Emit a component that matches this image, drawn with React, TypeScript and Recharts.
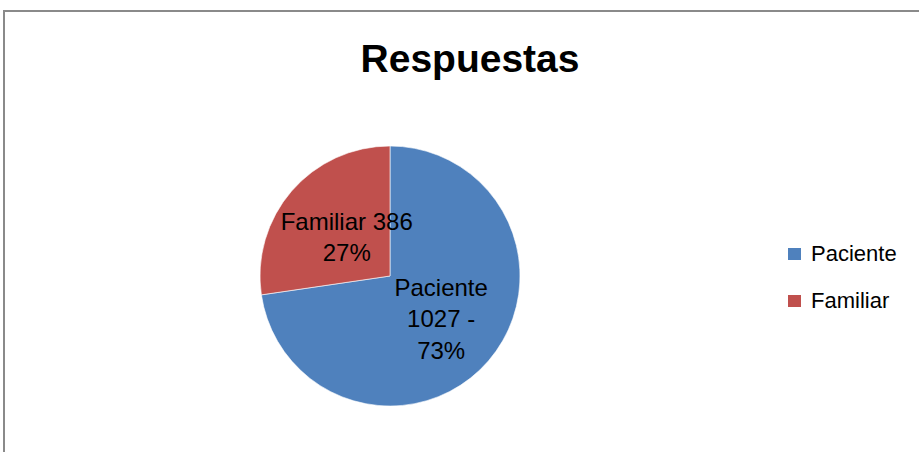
import React from "react";
import { PieChart, Pie, Cell, Legend } from "recharts";

const categories = ["Paciente", "Familiar"];
const values = [1027, 386];
const colors = ["#4F81BD", "#C0504D"];
const labelLines = [
  ["Paciente", "1027 -", "73%"],
  ["Familiar 386", "27%"],
];
const labelRadiusFactor = [0.52, 0.44];
const title = "Respuestas";

const data = categories.map((name, i) => ({ name, value: values[i], lines: labelLines[i] }));

const FONT = "'Liberation Sans', Arial, sans-serif";
const RAD = Math.PI / 180;

const renderLabel = (props: any) => {
  const { cx, cy, midAngle, outerRadius, index } = props;
  const r = outerRadius * labelRadiusFactor[index];
  const x = cx + r * Math.cos(-midAngle * RAD);
  const y = cy + r * Math.sin(-midAngle * RAD);
  const lines: string[] = data[index].lines;
  const lh = 31.5;
  const firstBaseline = y - ((lines.length - 1) * lh) / 2 + 7;
  return (
    <text x={x} textAnchor="middle" fontFamily={FONT} fontSize={24} fill="#000">
      {lines.map((l, i) => (
        <tspan key={i} x={x} y={firstBaseline + i * lh}>
          {l}
        </tspan>
      ))}
    </text>
  );
};

const renderLegend = () => (
  <div style={{ fontFamily: FONT, fontSize: 22, color: "#000" }}>
    {categories.map((c, i) => (
      <div key={c} style={{ display: "flex", alignItems: "center", height: 47 }}>
        <span style={{ display: "inline-block", width: 13, height: 12, background: colors[i], marginRight: 10 }} />
        <span>{c}</span>
      </div>
    ))}
  </div>
);

export default function App() {
  return (
    <div style={{ position: "absolute", left: 0, top: 0, width: 919, height: 452, background: "#fff", overflow: "hidden" }}>
      <div
        style={{
          position: "absolute",
          left: 3,
          top: 10,
          width: 916,
          height: 442,
          borderTop: "2px solid #8a8a8a",
          borderLeft: "2px solid #8a8a8a",
          boxSizing: "border-box",
        }}
      />
      <div
        style={{
          position: "absolute",
          left: 0,
          width: 940,
          top: 36,
          textAlign: "center",
          fontFamily: FONT,
          fontWeight: "bold",
          fontSize: 39,
          lineHeight: "45px",
          color: "#000",
        }}
      >
        {title}
      </div>
      <div style={{ position: "absolute", left: 0, top: 0 }}>
        <PieChart width={919} height={452} margin={{ top: 0, right: 0, bottom: 0, left: 0 }}>
          <Pie
            data={data}
            dataKey="value"
            nameKey="name"
            cx={390}
            cy={276}
            outerRadius={130}
            startAngle={90}
            endAngle={-270}
            stroke="#ffffff"
            strokeWidth={0.6}
            label={renderLabel}
            labelLine={false}
            isAnimationActive={false}
          >
            {data.map((d, i) => (
              <Cell key={d.name} fill={colors[i]} />
            ))}
          </Pie>
          <Legend
            layout="vertical"
            content={renderLegend}
            wrapperStyle={{ position: "absolute", left: 788, top: 230, width: 130 }}
          />
        </PieChart>
      </div>
    </div>
  );
}
